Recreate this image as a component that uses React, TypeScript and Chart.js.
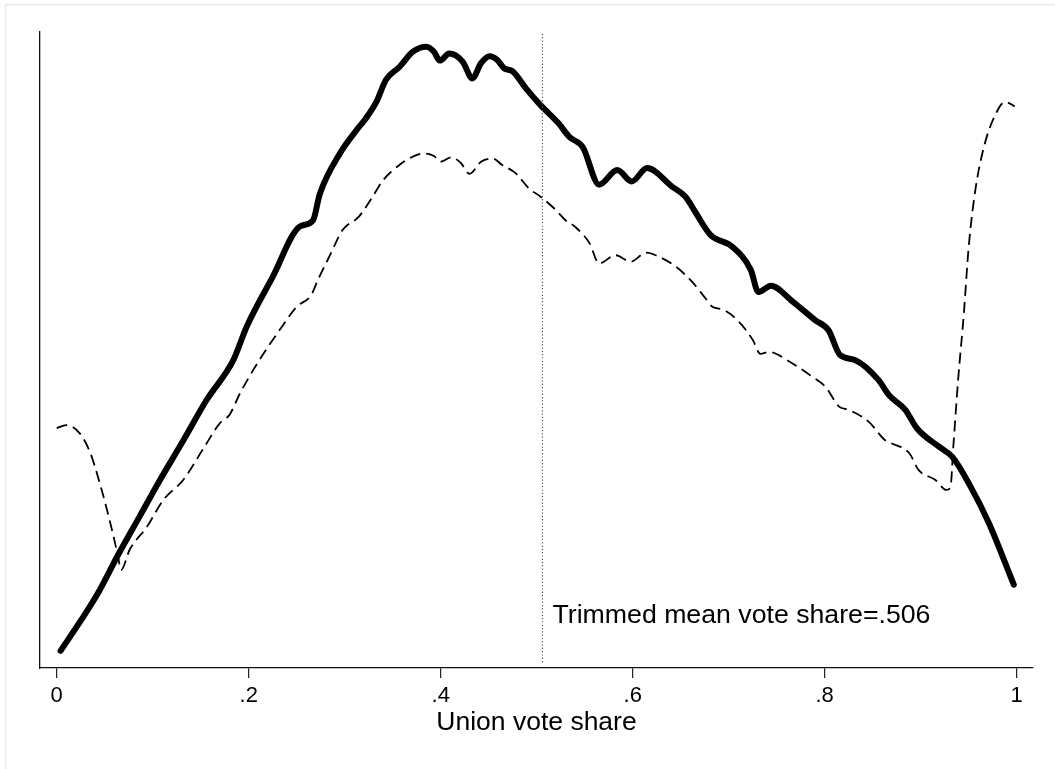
import React, { useEffect, useRef } from "react";
import { Chart, registerables } from "chart.js";

Chart.register(...registerables);

// Thick solid density curve
const solidX = [0.004, 0.024, 0.042, 0.064, 0.087, 0.107, 0.132, 0.156, 0.184, 0.198, 0.225, 0.253, 0.267, 0.274, 0.295, 0.314, 0.321, 0.333, 0.343, 0.357, 0.371, 0.385, 0.393, 0.399, 0.409, 0.423, 0.433, 0.442, 0.451, 0.459, 0.466, 0.475, 0.489, 0.504, 0.523, 0.534, 0.548, 0.565, 0.584, 0.599, 0.615, 0.641, 0.655, 0.666, 0.681, 0.704, 0.723, 0.731, 0.744, 0.766, 0.790, 0.804, 0.816, 0.832, 0.856, 0.867, 0.884, 0.896, 0.919, 0.933, 0.951, 0.971, 0.997];
const solidY = [2.7, 7.2, 11.5, 17.8, 24.0, 29.4, 35.8, 42.1, 48.4, 53.7, 61.5, 69.4, 70.4, 74.5, 80.9, 84.9, 86.2, 89.0, 92.5, 94.5, 96.9, 97.7, 96.9, 95.5, 96.6, 95.3, 92.7, 95.1, 96.2, 95.6, 94.3, 93.8, 91.1, 88.5, 85.6, 83.5, 81.9, 76.0, 78.3, 76.5, 78.6, 75.7, 74.1, 71.5, 68.1, 66.2, 62.6, 59.1, 60.1, 57.7, 54.7, 53.1, 49.2, 48.4, 45.3, 42.9, 40.6, 37.7, 34.8, 33.2, 28.8, 22.8, 13.1];

// Thin dashed curve
const dashedX = [0.000, 0.010, 0.024, 0.035, 0.045, 0.055, 0.064, 0.067, 0.076, 0.094, 0.111, 0.132, 0.152, 0.170, 0.180, 0.191, 0.211, 0.232, 0.250, 0.265, 0.272, 0.284, 0.298, 0.315, 0.329, 0.340, 0.357, 0.371, 0.383, 0.393, 0.400, 0.411, 0.421, 0.430, 0.442, 0.454, 0.464, 0.478, 0.492, 0.504, 0.520, 0.530, 0.539, 0.555, 0.565, 0.582, 0.598, 0.614, 0.624, 0.645, 0.662, 0.676, 0.683, 0.695, 0.711, 0.725, 0.733, 0.742, 0.763, 0.787, 0.801, 0.815, 0.825, 0.846, 0.863, 0.870, 0.888, 0.898, 0.915, 0.927, 0.931, 0.934, 0.939, 0.945, 0.950, 0.957, 0.966, 0.976, 0.988, 0.998];
const dashedY = [37.7, 38.2, 36.9, 33.8, 29.0, 23.3, 17.5, 15.4, 18.6, 22.2, 26.4, 29.6, 34.3, 38.5, 39.8, 43.2, 48.4, 53.1, 56.8, 58.6, 61.0, 64.7, 68.9, 71.0, 74.1, 76.7, 79.1, 80.4, 80.9, 80.5, 79.6, 80.3, 79.4, 77.7, 79.6, 80.1, 79.1, 77.8, 75.4, 74.1, 72.0, 70.4, 69.5, 66.8, 63.6, 64.9, 63.9, 65.3, 64.9, 63.1, 60.7, 58.1, 56.8, 56.3, 54.4, 51.6, 49.4, 49.7, 48.2, 45.8, 44.2, 41.1, 40.6, 38.7, 35.8, 35.3, 33.8, 31.1, 29.6, 28.0, 28.4, 34.8, 45.3, 55.8, 66.2, 75.2, 82.0, 86.4, 89.0, 88.3];

const xTicks = [0, 0.2, 0.4, 0.6, 0.8, 1];
const xTickLabels = ["0", ".2", ".4", ".6", ".8", "1"];
const xTitle = "Union vote share";
const meanShare = 0.506;
const meanLabel = "Trimmed mean vote share=.506";
const meanLabelY = 8.2;

const FONT = "'Liberation Sans', Arial, Helvetica, sans-serif";

const overlayPlugin = {
  id: "overlay",
  beforeDraw(chart: any) {
    const { ctx } = chart;
    ctx.save();
    ctx.fillStyle = "#ffffff";
    ctx.fillRect(0, 0, chart.width, chart.height);
    ctx.strokeStyle = "#e3eaee";
    ctx.lineWidth = 1.5;
    ctx.beginPath();
    ctx.moveTo(5.5, chart.height);
    ctx.lineTo(5.5, 4.5);
    ctx.lineTo(chart.width, 4.5);
    ctx.stroke();
    ctx.restore();
  },
  afterDatasetsDraw(chart: any) {
    const { ctx, chartArea, scales } = chart;
    const px = scales.x.getPixelForValue(meanShare);
    ctx.save();
    ctx.strokeStyle = "#555555";
    ctx.lineWidth = 1.2;
    ctx.setLineDash([1.2, 2.1]);
    ctx.beginPath();
    ctx.moveTo(px, chartArea.top + 2);
    ctx.lineTo(px, chartArea.bottom - 5);
    ctx.stroke();
    ctx.setLineDash([]);
    ctx.fillStyle = "#000000";
    ctx.font = `26.7px ${FONT}`;
    ctx.textAlign = "left";
    ctx.textBaseline = "middle";
    ctx.fillText(meanLabel, px + 10, scales.y.getPixelForValue(meanLabelY));
    ctx.restore();
  },
};

export default function App() {
  const ref = useRef<HTMLCanvasElement | null>(null);

  useEffect(() => {
    if (!ref.current) return;
    const chart = new Chart(ref.current, {
      type: "line",
      data: {
        datasets: [
          {
            data: solidX.map((x, i) => ({ x, y: solidY[i] })),
            borderColor: "#000000",
            borderWidth: 6,
            borderCapStyle: "round",
            borderJoinStyle: "round",
            pointRadius: 0,
            cubicInterpolationMode: "monotone",
            fill: false,
          },
          {
            data: dashedX.map((x, i) => ({ x, y: dashedY[i] })),
            borderColor: "#000000",
            borderWidth: 1.8,
            borderDash: [11, 6],
            pointRadius: 0,
            cubicInterpolationMode: "monotone",
            fill: false,
          },
        ],
      },
      options: {
        responsive: false,
        animation: false,
        layout: { padding: { left: 40, top: 32, right: 22, bottom: 0 } },
        plugins: {
          legend: { display: false },
          tooltip: { enabled: false },
        },
        scales: {
          x: {
            type: "linear",
            min: -0.0174,
            max: 1.017,
            afterBuildTicks: (scale: any) => {
              scale.ticks = xTicks.map((v) => ({ value: v }));
            },
            afterFit: (scale: any) => {
              scale.height = 101;
            },
            ticks: {
              autoSkip: false,
              maxRotation: 0,
              padding: 5,
              color: "#000000",
              font: { family: FONT, size: 22 },
              callback: (_v: any, i: number) => xTickLabels[i],
            },
            grid: {
              display: true,
              drawOnChartArea: false,
              drawTicks: true,
              tickLength: 10,
              color: "#222222",
              lineWidth: 1.2,
            },
            border: { display: true, color: "#111111", width: 1.3 },
            title: {
              display: true,
              text: xTitle,
              color: "#000000",
              font: { family: FONT, size: 26.5 },
              padding: { top: 0, bottom: 30 },
            },
          },
          y: {
            type: "linear",
            min: 0,
            max: 100,
            afterFit: (scale: any) => {
              scale.width = 0;
            },
            ticks: { display: false },
            grid: { display: false },
            border: { display: true, color: "#111111", width: 1.3 },
          },
        },
      } as any,
      plugins: [overlayPlugin],
    });
    return () => chart.destroy();
  }, []);

  return (
    <div style={{ position: "fixed", left: 0, top: 0, width: 1055, height: 769, background: "#fff" }}>
      <canvas ref={ref} width={1055} height={769} style={{ display: "block" }} />
    </div>
  );
}
